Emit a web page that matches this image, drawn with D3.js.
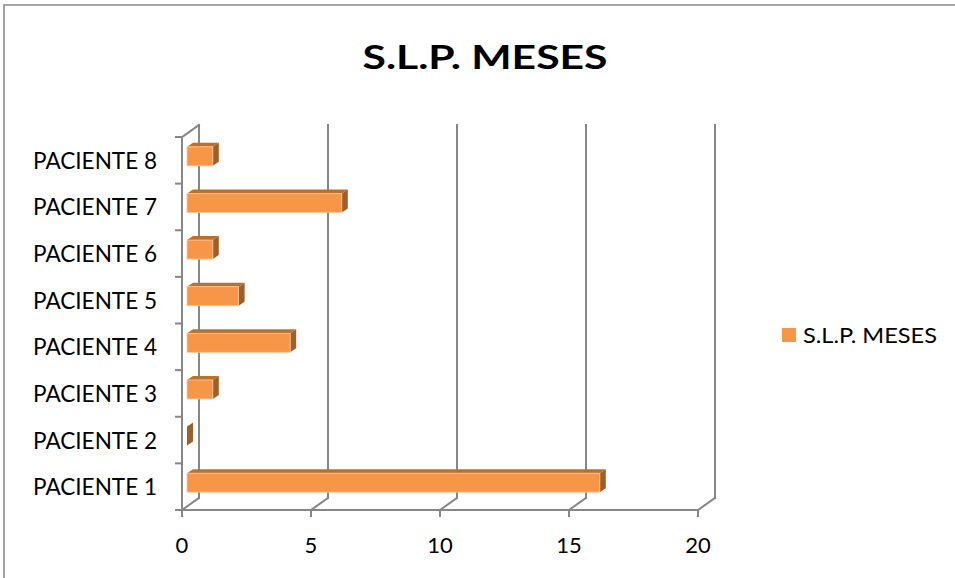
<!DOCTYPE html>
<html>
<head>
<meta charset="utf-8">
<script src="https://cdn.jsdelivr.net/npm/d3@7"></script>
<style>
  html, body { margin: 0; padding: 0; background: #fff; }
  svg { display: block; }
  text { font-family: Lato, "Noto Sans", sans-serif; fill: #000; }
</style>
</head>
<body>
<svg id="chart" width="955" height="578"></svg>
<script>
// Chart data
const chartTitle = "S.L.P. MESES";
const seriesName = "S.L.P. MESES";
const categories = ["PACIENTE 1", "PACIENTE 2", "PACIENTE 3", "PACIENTE 4",
                    "PACIENTE 5", "PACIENTE 6", "PACIENTE 7", "PACIENTE 8"];
const values = [16, 0, 1, 4, 2, 1, 6, 1];
const xTicks = [0, 5, 10, 15, 20];

// Colours
const axisColor = "#878787";
const faceColor = "#F79646";
const topColor = "#B9712F";
const sideColor = "#A15F28";

const svg = d3.select("#chart");

// Outer chart-area frame
svg.append("rect")
  .attr("x", 4).attr("y", 5).attr("width", 980).attr("height", 600)
  .attr("fill", "none").attr("stroke", axisColor).attr("stroke-width", 1.5);

// Scales on the front plane of the 3-D plot box
const x = d3.scaleLinear().domain([0, 20]).range([182, 698]);
const y = d3.scaleBand().domain(categories.slice().reverse()).range([137, 510]).padding(0);

// Depth of the walls, and of the bars within them
const wallDX = 17, wallDY = -12;
const barOffX = 5, barOffY = -4;   // bar front face sits partway into the box
const barDX = 6, barDY = -4;       // bar thickness along depth
const barH = 19;

const g = svg.append("g");
const line = (x1, y1, x2, y2) => g.append("line")
  .attr("x1", x1).attr("y1", y1).attr("x2", x2).attr("y2", y2)
  .attr("stroke", axisColor).attr("stroke-width", 2).attr("stroke-linecap", "square");

const yTop = y.range()[0], yBot = y.range()[1];

// Back-wall gridlines, each dropping onto the floor towards its front tick
xTicks.forEach(t => {
  const bx = x(t) + wallDX;
  if (t !== 0) line(bx, yTop + wallDY, bx, yBot + wallDY);
  line(bx, yBot + wallDY, x(t), yBot);
});

// Left wall: back edge, front axis and top edge
line(x(0) + wallDX, yTop + wallDY, x(0) + wallDX, yBot + wallDY);
line(x(0), yTop, x(0), yBot);
line(x(0), yTop, x(0) + wallDX, yTop + wallDY);

// Front floor edge (value axis)
line(x(0), yBot, x(20), yBot);

// Value-axis tick marks and labels
xTicks.forEach(t => {
  line(x(t), yBot, x(t), yBot + 6);
  g.append("text")
    .attr("x", x(t)).attr("y", 553)
    .attr("text-anchor", "middle")
    .attr("font-size", 22)
    .text(t);
});

// Category-axis tick marks at band edges
const edges = categories.map(c => y(c)).concat([yBot]);
edges.forEach(e => line(x(0) - 6, e, x(0), e));

// Category labels
g.selectAll("text.cat")
  .data(categories)
  .join("text")
  .attr("class", "cat")
  .attr("x", 157)
  .attr("y", d => y(d) + y.bandwidth() / 2 + 8.5)
  .attr("text-anchor", "end")
  .attr("font-size", 22.5)
  .attr("textLength", 124)
  .attr("lengthAdjust", "spacingAndGlyphs")
  .text(d => d);

// 3-D bars: front face, top face, right side face
const bars = g.selectAll("g.bar")
  .data(categories.map((c, i) => ({ c, v: values[i] })))
  .join("g").attr("class", "bar");

const bx0 = d => x(0) + barOffX;
const bx1 = d => x(d.v) + barOffX;
const by0 = d => y(d.c) + y.bandwidth() / 2 + barOffY - barH / 2;
const by1 = d => by0(d) + barH;

bars.append("path")
  .attr("fill", topColor)
  .attr("d", d => `M${bx0(d)},${by0(d)} L${bx1(d)},${by0(d)} L${bx1(d) + barDX},${by0(d) + barDY} L${bx0(d) + barDX},${by0(d) + barDY} Z`);

bars.append("path")
  .attr("fill", sideColor)
  .attr("d", d => `M${bx1(d)},${by0(d)} L${bx1(d) + barDX},${by0(d) + barDY} L${bx1(d) + barDX},${by1(d) + barDY} L${bx1(d)},${by1(d)} Z`);

bars.filter(d => d.v > 0).append("rect")
  .attr("x", bx0).attr("y", by0)
  .attr("width", d => bx1(d) - bx0(d)).attr("height", barH)
  .attr("fill", faceColor)
  .attr("stroke", "#FBC7A0").attr("stroke-width", 0.8);

// Title
svg.append("text")
  .attr("x", 485).attr("y", 69)
  .attr("text-anchor", "middle")
  .attr("font-size", 32.5)
  .attr("font-weight", "bold")
  .attr("textLength", 245)
  .attr("lengthAdjust", "spacingAndGlyphs")
  .text(chartTitle);

// Legend
const legend = svg.append("g");
legend.append("rect")
  .attr("x", 782).attr("y", 328).attr("width", 14).attr("height", 14)
  .attr("fill", faceColor);
legend.append("text")
  .attr("x", 803).attr("y", 343)
  .attr("font-size", 21)
  .attr("textLength", 134)
  .attr("lengthAdjust", "spacingAndGlyphs")
  .text(seriesName);
</script>
</body>
</html>
